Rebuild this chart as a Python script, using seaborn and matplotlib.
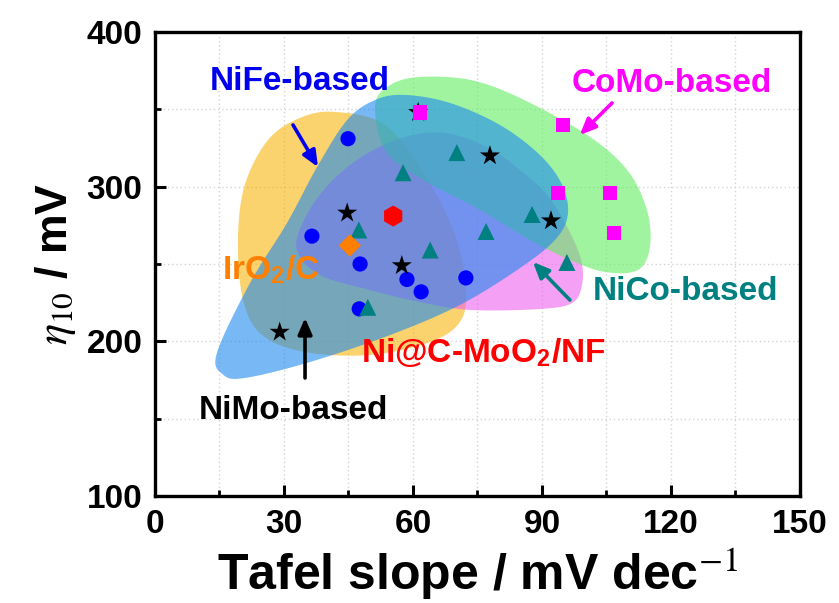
import numpy as np
import pandas as pd
import matplotlib
matplotlib.use("Agg")
import matplotlib.pyplot as plt
import seaborn as sns

# ---- catalyst data: Tafel slope (mV dec^-1) vs overpotential at 10 mA cm^-2 (mV)
nife_tafel = [44.9, 36.5, 47.7, 47.5, 58.6, 61.9, 72.3]
nife_eta = [331, 268, 250, 221, 240, 232, 241]

nimo_tafel = [29.0, 44.7, 57.4, 77.9, 92.1, 61.2]
nimo_eta = [206, 283, 249, 320, 278, 348]

nico_tafel = [57.7, 47.4, 64.0, 77.0, 70.2, 87.7, 95.8, 49.5]
nico_eta = [309, 272, 259, 271, 322, 282, 251, 222]

como_tafel = [61.6, 94.9, 93.7, 105.8, 106.7]
como_eta = [348, 340, 296, 296, 270]

iro2_tafel = [45.3]
iro2_eta = [262]

this_tafel = [55.4]
this_eta = [281]

# ---- shaded group regions (outline points, data units)
orange_x = [41.9, 53.5, 62.8, 69.8, 72.3, 70.9, 64.0, 50.0, 34.9, 24.9, 20.5, 19.3, 20.9, 26.3, 33.7]
orange_y = [348.3, 339.9, 307.5, 268.8, 233.2, 212.5, 199.6, 191.2, 193.1, 204.1, 226.7, 265.5, 301.1, 330.2, 344.4]

blue_x = [14.4, 15.8, 20.9, 36.0, 54.7, 70.9, 84.9, 93.0, 96.0, 94.7, 89.5, 80.2, 68.6, 58.1, 51.2, 44.7, 37.7, 30.7, 22.1]
blue_y = [192.5, 178.6, 176.3, 186.6, 204.1, 223.5, 247.4, 265.5, 281.7, 301.1, 320.5, 339.9, 354.1, 359.3, 356.0, 343.1, 312.7, 276.5, 237.7]

green_x = [51.2, 54.7, 61.6, 73.3, 84.9, 100.5, 109.8, 114.4, 115.1, 112.3, 104.7, 96.5, 87.2, 75.6, 61.6, 53.5]
green_y = [352.8, 365.7, 370.9, 369.0, 357.3, 333.4, 310.8, 284.9, 261.0, 246.1, 244.8, 252.6, 265.5, 284.9, 305.6, 323.7]

pink_x = [33.0, 34.9, 40.7, 48.8, 58.1, 67.4, 77.2, 84.9, 91.2, 96.0, 99.1, 99.3, 97.0, 89.5, 73.3, 61.6, 50.0, 38.4]
pink_y = [259.1, 279.7, 302.4, 320.5, 332.1, 334.7, 325.6, 310.8, 294.6, 273.3, 252.6, 236.4, 224.8, 220.9, 220.3, 225.4, 233.2, 242.9]

x_ticks = [0, 30, 60, 90, 120, 150]
y_ticks = [100, 200, 300, 400]


def smooth_closed(xs, ys, n=24):
    """Closed Catmull-Rom curve through the outline points."""
    pts = np.column_stack([xs, ys]).astype(float)
    N = len(pts)
    t = np.linspace(0, 1, n, endpoint=False)[:, None]
    segs = []
    for i in range(N):
        p0, p1, p2, p3 = pts[(i - 1) % N], pts[i], pts[(i + 1) % N], pts[(i + 2) % N]
        segs.append(0.5 * (2 * p1 + (-p0 + p2) * t
                           + (2 * p0 - 5 * p1 + 4 * p2 - p3) * t ** 2
                           + (-p0 + 3 * p1 - 3 * p2 + p3) * t ** 3))
    return np.vstack(segs)


groups = {
    "NiFe": (nife_tafel, nife_eta),
    "NiMo": (nimo_tafel, nimo_eta),
    "NiCo": (nico_tafel, nico_eta),
    "CoMo": (como_tafel, como_eta),
    "IrO2": (iro2_tafel, iro2_eta),
    "this": (this_tafel, this_eta),
}
df = pd.concat(
    [pd.DataFrame({"tafel": t, "eta": e, "group": g}) for g, (t, e) in groups.items()],
    ignore_index=True,
)

palette = {"NiFe": "#0000FF", "NiMo": "#000000", "NiCo": "#008080",
           "CoMo": "#FF00FF", "IrO2": "#FF7F00", "this": "#FF0000"}
markers = {"NiFe": "o", "NiMo": "*", "NiCo": "^", "CoMo": "s", "IrO2": "D", "this": "h"}
sizes = {"NiFe": 120, "NiMo": 230, "NiCo": 150, "CoMo": 105, "IrO2": 130, "this": 230}

sns.set_theme(style="white")
plt.rcParams["font.family"] = ["Liberation Sans", "DejaVu Sans"]
plt.rcParams["mathtext.fontset"] = "stix"
for key in ["text.color", "axes.labelcolor", "xtick.color", "ytick.color", "axes.edgecolor"]:
    plt.rcParams[key] = "black"

fig = plt.figure(figsize=(8.39, 6.03), dpi=100)
ax = fig.add_axes([0.1847, 0.1774, 0.7688, 0.7696])

# dotted grid beneath everything
for gx in np.arange(15, 150, 15):
    ax.axvline(gx, color="#d4d4d4", lw=1.0, ls=(0, (1, 2)), zorder=0)
for gy in np.arange(150, 400, 50):
    ax.axhline(gy, color="#d4d4d4", lw=1.0, ls=(0, (1, 2)), zorder=0)

# translucent group regions
for xs, ys, col, z in [(orange_x, orange_y, "#F7B40D", 1),
                       (pink_x, pink_y, "#EE61EE", 2),
                       (green_x, green_y, "#61EE61", 3),
                       (blue_x, blue_y, "#1E8AEE", 4)]:
    c = smooth_closed(xs, ys)
    ax.fill(c[:, 0], c[:, 1], color=col, alpha=0.6, lw=0, zorder=z)

sns.scatterplot(data=df, x="tafel", y="eta", hue="group", style="group", size="group",
                palette=palette, markers=markers, sizes=sizes, linewidth=0,
                legend=False, ax=ax, zorder=10)

ax.set_xlim(0, 150)
ax.set_ylim(100, 400)
ax.set_xticks(x_ticks)
ax.set_yticks(y_ticks)
ax.set_xticks(np.arange(15, 150, 30), minor=True)
ax.set_yticks(np.arange(150, 400, 100), minor=True)
ax.tick_params(which="major", direction="in", length=8, width=2.2, colors="black",
               labelsize=24, pad=9, bottom=True, left=True, top=False, right=False)
ax.tick_params(which="minor", direction="in", length=4.5, width=2.0, colors="black",
               bottom=True, left=True, top=False, right=False)
for lab in ax.get_xticklabels() + ax.get_yticklabels():
    lab.set_fontweight("bold")
for sp in ax.spines.values():
    sp.set_visible(True)
    sp.set_linewidth(2.4)
    sp.set_color("black")

ax.set_xlabel(r"Tafel slope / mV dec$^{-1}$", fontsize=36, fontweight="bold", labelpad=5)
ax.set_ylabel(r"$\eta_{10}$ / mV", fontsize=32, fontweight="bold", labelpad=6)

# labels and arrows for each family
txt = dict(fontsize=24, fontweight="bold", ha="center", va="center", zorder=12)
ax.text(33.7, 367.7, "NiFe-based", color="#0000EE", **txt)
ax.text(120.2, 367.0, "CoMo-based", color="#FF00FF", **txt)
ax.text(123.3, 231.9, "NiCo-based", color="#008080", **txt)
ax.text(32.1, 155.6, "NiMo-based", color="#000000", **txt)
ax.text(27.0, 246.0, r"IrO$_\mathregular{2}$/C", color="#FF8000", **txt)
ax.text(76.5, 193.0, r"Ni@C-MoO$_\mathregular{2}$/NF", color="#FF0000", **txt)

arrow = dict(arrowstyle="-|>,head_length=0.8,head_width=0.35", lw=2.6, shrinkA=0, shrinkB=0)
for (x0, y0, x1, y1, col) in [(32.1, 339.9, 37.9, 312.7, "#0000EE"),
                              (106.3, 354.1, 98.8, 333.4, "#FF00FF"),
                              (96.5, 226.7, 87.9, 251.3, "#008080"),
                              (34.9, 176.3, 34.9, 215.1, "#000000")]:
    ax.annotate("", xy=(x1, y1), xytext=(x0, y0),
                arrowprops=dict(color=col, **arrow), zorder=12)

fig.savefig("out.png", dpi=100)
